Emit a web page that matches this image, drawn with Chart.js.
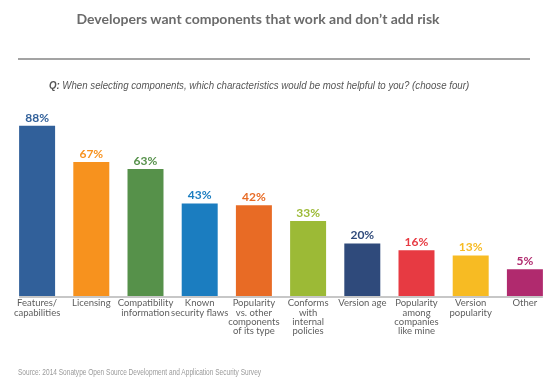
<!DOCTYPE html>
<html>
<head>
<meta charset="utf-8">
<script src="https://cdn.jsdelivr.net/npm/chart.js@4/dist/chart.umd.min.js"></script>
<style>
  html, body { margin: 0; padding: 0; background: #fff; }
  #wrap { position: relative; width: 553px; height: 383px; overflow: hidden; }
  #c { position: absolute; left: 0; top: 0; }
  .t { position: absolute; white-space: nowrap; }
  #title { left: 0; width: 516px; top: 10px; text-align: center; font: bold 14px Lato, sans-serif; color: #6b6b6b; }
  #rule { position: absolute; left: 18px; top: 58px; width: 512px; height: 2px; background: #a3a3a3; }
  #sub { left: 0; width: 518px; top: 79px; text-align: center; font: italic 11px "Liberation Sans", sans-serif; color: #555; transform: scaleX(0.88); transform-origin: 259px 0; }
  #src { left: 18px; top: 367px; font: 8.5px "Liberation Sans", sans-serif; color: #9a9a9a; transform: scaleX(0.77); transform-origin: 0 0; }
</style>
</head>
<body>
<div id="wrap">
  <canvas id="c" width="553" height="383"></canvas>
  <div class="t" id="title">Developers want components that work and don’t add risk</div>
  <div id="rule"></div>
  <div class="t" id="sub"><b>Q:</b> When selecting components, which characteristics would be most helpful to you? (choose four)</div>
  <div class="t" id="src">Source: 2014 Sonatype Open Source Development and Application Security Survey</div>
</div>
<script>
const categories = [
  ["Features/", "capabilities"],
  ["Licensing"],
  ["Compatibility", "information"],
  ["Known", "security flaws"],
  ["Popularity", "vs. other", "components", "of its type"],
  ["Conforms", "with", "internal", "policies"],
  ["Version age"],
  ["Popularity", "among", "companies", "like mine"],
  ["Version", "popularity"],
  ["Other"]
];
const values = [88, 67, 63, 43, 42, 33, 20, 16, 13, 5];
const barColors = ["#31609a", "#f7921e", "#56914a", "#1b7dc0", "#e86b25", "#9cba36", "#2f4a7b", "#e73a42", "#f7bb23", "#b02a6e"];
const axisMin = -10.35;
const axisMax = 100;

const overlay = {
  id: 'overlay',
  afterDatasetsDraw(chart) {
    const ctx = chart.ctx;
    const meta = chart.getDatasetMeta(0);
    const y0 = chart.scales.y.getPixelForValue(axisMin);
    const first = meta.data[0], last = meta.data[meta.data.length - 1];
    ctx.save();
    ctx.strokeStyle = '#b5b5b5';
    ctx.lineWidth = 1.5;
    ctx.beginPath();
    ctx.moveTo(first.x - first.width / 2, y0 + 1);
    ctx.lineTo(last.x + last.width / 2, y0 + 1);
    ctx.stroke();
    ctx.font = 'bold 12px Lato, sans-serif';
    ctx.textAlign = 'center';
    ctx.textBaseline = 'middle';
    meta.data.forEach((bar, i) => {
      ctx.fillStyle = barColors[i];
      ctx.fillText(values[i] + '%', bar.x, bar.y - 8);
    });
    ctx.restore();
  }
};

new Chart(document.getElementById('c'), {
  type: 'bar',
  data: {
    labels: categories,
    datasets: [{
      data: values,
      backgroundColor: barColors,
      borderWidth: 0,
      base: axisMin,
      barPercentage: 1,
      categoryPercentage: 0.664
    }]
  },
  options: {
    responsive: false,
    animation: false,
    devicePixelRatio: 1,
    layout: { padding: { left: 10, right: 1, top: 105, bottom: 45 } },
    plugins: { legend: { display: false }, tooltip: { enabled: false } },
    scales: {
      y: { display: false, min: axisMin, max: axisMax },
      x: {
        grid: { display: false, drawTicks: false },
        border: { display: false },
        ticks: {
          autoSkip: false, maxRotation: 0, minRotation: 0, padding: 3,
          color: '#5e5e5e',
          font: { family: 'Lato, sans-serif', size: 9.5, lineHeight: 0.95 }
        }
      }
    }
  },
  plugins: [overlay]
});
</script>
</body>
</html>
